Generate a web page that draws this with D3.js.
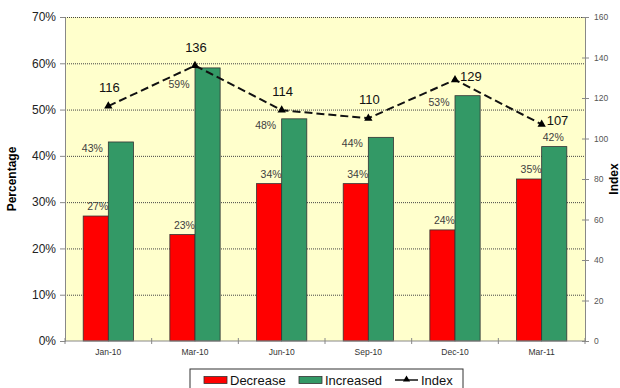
<!DOCTYPE html>
<html>
<head>
<meta charset="utf-8">
<script src="https://cdn.jsdelivr.net/npm/d3@7"></script>
<style>
  body { margin: 0; background: #fff; }
  text { font-family: "Liberation Sans", Arial, sans-serif; }
</style>
</head>
<body>
<div id="chart"></div>
<script>
// chart data
var categories = ["Jan-10", "Mar-10", "Jun-10", "Sep-10", "Dec-10", "Mar-11"];
var decrease = [27, 23, 34, 34, 24, 35];
var increased = [43, 59, 48, 44, 53, 42];
var indexVals = [116, 136, 114, 110, 129, 107];
var pctTicks = [0, 10, 20, 30, 40, 50, 60, 70];
var indexTicks = [0, 20, 40, 60, 80, 100, 120, 140, 160];

// label placement (where excel dropped each label)
var indexLabelPos = ["above", "above", "above", "above", "right", "right"];
var incLabelPos = ["left", "leftlow", "left", "left", "left", "above"];

var svgWidth = 620;
var svgHeight = 388;
var margin = { top: 17, right: 35, bottom: 47, left: 65 };
var width = svgWidth - margin.left - margin.right;
var height = svgHeight - margin.top - margin.bottom;

var svg = d3.select("#chart")
    .append("svg")
    .attr("width", svgWidth)
    .attr("height", svgHeight);

var chartGroup = svg.append("g")
    .attr("transform", `translate(${margin.left}, ${margin.top})`);

var x0 = d3.scaleBand()
    .domain(categories)
    .range([0, width])
    .paddingInner(0.42)
    .paddingOuter(0.21);

var x1 = d3.scaleBand()
    .domain(["decrease", "increased"])
    .range([0, x0.bandwidth()]);

var yLeft = d3.scaleLinear().domain([0, 70]).range([height, 0]);
var yRight = d3.scaleLinear().domain([0, 160]).range([height, 0]);

// plot area
chartGroup.append("rect")
    .attr("width", width)
    .attr("height", height)
    .attr("fill", "#FFFFCC");

chartGroup.selectAll(".grid")
    .data(pctTicks.slice(1))
    .enter()
    .append("line")
    .attr("x1", 0)
    .attr("x2", width)
    .attr("y1", d => yLeft(d) + 0.5)
    .attr("y2", d => yLeft(d) + 0.5)
    .attr("stroke", "#444")
    .attr("stroke-width", 1)
    .attr("stroke-dasharray", "1,1");

// bars
var groups = chartGroup.selectAll(".grp")
    .data(categories)
    .enter()
    .append("g")
    .attr("transform", d => `translate(${x0(d)},0)`);

groups.append("rect")
    .attr("x", x1("decrease"))
    .attr("y", (d, i) => yLeft(decrease[i]))
    .attr("width", x1.bandwidth())
    .attr("height", (d, i) => height - yLeft(decrease[i]))
    .attr("fill", "#FF0000")
    .attr("stroke", "#333")
    .attr("stroke-width", 0.8);

groups.append("rect")
    .attr("x", x1("increased"))
    .attr("y", (d, i) => yLeft(increased[i]))
    .attr("width", x1.bandwidth())
    .attr("height", (d, i) => height - yLeft(increased[i]))
    .attr("fill", "#339966")
    .attr("stroke", "#333")
    .attr("stroke-width", 0.8);

// bar labels
groups.append("text")
    .attr("x", x1("decrease") + x1.bandwidth() / 2 + 2)
    .attr("y", (d, i) => yLeft(decrease[i]) - 6)
    .attr("text-anchor", "middle")
    .attr("font-size", "10.5px")
    .attr("fill", "#404040")
    .text((d, i) => decrease[i] + "%");

function incLabelX(i) {
    return incLabelPos[i] === "above" ? x1("increased") + x1.bandwidth() / 2 - 1 : x1("increased") - 16;
}
function incLabelY(i) {
    var top = yLeft(increased[i]);
    if (incLabelPos[i] === "above") return top - 6;
    if (incLabelPos[i] === "leftlow") return top + 20;
    return top + 10;
}

groups.append("text")
    .attr("x", (d, i) => incLabelX(i))
    .attr("y", (d, i) => incLabelY(i))
    .attr("text-anchor", "middle")
    .attr("font-size", "10.5px")
    .attr("fill", "#404040")
    .text((d, i) => increased[i] + "%");

// index line
var cx = d => x0(d) + x0.bandwidth() / 2;

var line = d3.line()
    .x((d, i) => cx(categories[i]))
    .y(d => yRight(d));

chartGroup.append("path")
    .datum(indexVals)
    .attr("d", line)
    .attr("fill", "none")
    .attr("stroke", "#111")
    .attr("stroke-width", 2)
    .attr("stroke-dasharray", "8,4");

chartGroup.selectAll(".marker")
    .data(indexVals)
    .enter()
    .append("path")
    .attr("d", d3.symbol().type(d3.symbolTriangle).size(30))
    .attr("transform", (d, i) => `translate(${cx(categories[i])},${yRight(d)})`)
    .attr("fill", "#000");

chartGroup.selectAll(".idxlabel")
    .data(indexVals)
    .enter()
    .append("text")
    .attr("x", (d, i) => indexLabelPos[i] === "right" ? cx(categories[i]) + 5 : cx(categories[i]) + 1)
    .attr("y", (d, i) => indexLabelPos[i] === "right" ? yRight(d) + 1 : yRight(d) - 14)
    .attr("text-anchor", (d, i) => indexLabelPos[i] === "right" ? "start" : "middle")
    .attr("font-size", "13px")
    .attr("fill", "#111")
    .text(d => d);

// axes
var leftAxis = d3.axisLeft(yLeft)
    .tickValues(pctTicks)
    .tickFormat(d => d + "%")
    .tickSizeOuter(0)
    .tickSize(5)
    .tickPadding(4);

var yAxis = chartGroup.append("g").call(leftAxis);
yAxis.select(".domain").attr("stroke", "#888");
yAxis.selectAll(".tick line").attr("stroke", "#888");
yAxis.selectAll("text").attr("font-size", "12px").attr("fill", "#222")
    .attr("font-family", "Liberation Sans, Arial, sans-serif");

var rightAxis = d3.axisRight(yRight)
    .tickValues(indexTicks)
    .tickSizeOuter(0)
    .tickSize(4)
    .tickPadding(5);

var y2Axis = chartGroup.append("g")
    .attr("transform", `translate(${width}, 0)`)
    .call(rightAxis);
y2Axis.select(".domain").attr("stroke", "#888");
y2Axis.selectAll(".tick line").attr("stroke", "#888").attr("x1", -3);
y2Axis.selectAll("text").attr("font-size", "8.5px").attr("fill", "#555")
    .attr("font-family", "Liberation Sans, Arial, sans-serif");

var xAxis = chartGroup.append("g")
    .attr("transform", `translate(0, ${height})`);
xAxis.append("line")
    .attr("x1", 0).attr("x2", width)
    .attr("stroke", "#888");
xAxis.selectAll(".xtick")
    .data(d3.range(categories.length + 1))
    .enter()
    .append("line")
    .attr("x1", i => i * x0.step())
    .attr("x2", i => i * x0.step())
    .attr("y1", -3).attr("y2", 3)
    .attr("stroke", "#888");
xAxis.selectAll(".xlabel")
    .data(categories)
    .enter()
    .append("text")
    .attr("x", d => cx(d))
    .attr("y", 14)
    .attr("text-anchor", "middle")
    .attr("font-size", "8.5px")
    .attr("fill", "#333")
    .text(d => d);

// axis titles
svg.append("text")
    .attr("transform", `translate(16, ${margin.top + height / 2}) rotate(-90)`)
    .attr("text-anchor", "middle")
    .attr("font-size", "12px")
    .attr("font-weight", "bold")
    .text("Percentage");

svg.append("text")
    .attr("transform", `translate(618, ${margin.top + height / 2}) rotate(-90)`)
    .attr("text-anchor", "middle")
    .attr("font-size", "12px")
    .attr("font-weight", "bold")
    .text("Index");

// legend
var legend = svg.append("g").attr("transform", "translate(190, 369)");
legend.append("rect")
    .attr("width", 273).attr("height", 30)
    .attr("fill", "#fff")
    .attr("stroke", "#333")
    .attr("stroke-width", 1);

var legendItems = [
    { label: "Decrease", color: "#FF0000", x: 14 },
    { label: "Increased", color: "#339966", x: 109 }
];
legendItems.forEach(function(item) {
    legend.append("rect")
        .attr("x", item.x).attr("y", 7.5)
        .attr("width", 23).attr("height", 7)
        .attr("fill", item.color)
        .attr("stroke", "#333")
        .attr("stroke-width", 0.8);
    legend.append("text")
        .attr("x", item.x + 26).attr("y", 16)
        .attr("font-size", "13px")
        .attr("fill", "#111")
        .text(item.label);
});
legend.append("line")
    .attr("x1", 205).attr("x2", 228)
    .attr("y1", 11).attr("y2", 11)
    .attr("stroke", "#111").attr("stroke-width", 1.5);
legend.append("path")
    .attr("d", d3.symbol().type(d3.symbolTriangle).size(22))
    .attr("transform", "translate(216.5, 10.5)")
    .attr("fill", "#000");
legend.append("text")
    .attr("x", 231).attr("y", 16)
    .attr("font-size", "13px")
    .attr("fill", "#111")
    .text("Index");
</script>
</body>
</html>
